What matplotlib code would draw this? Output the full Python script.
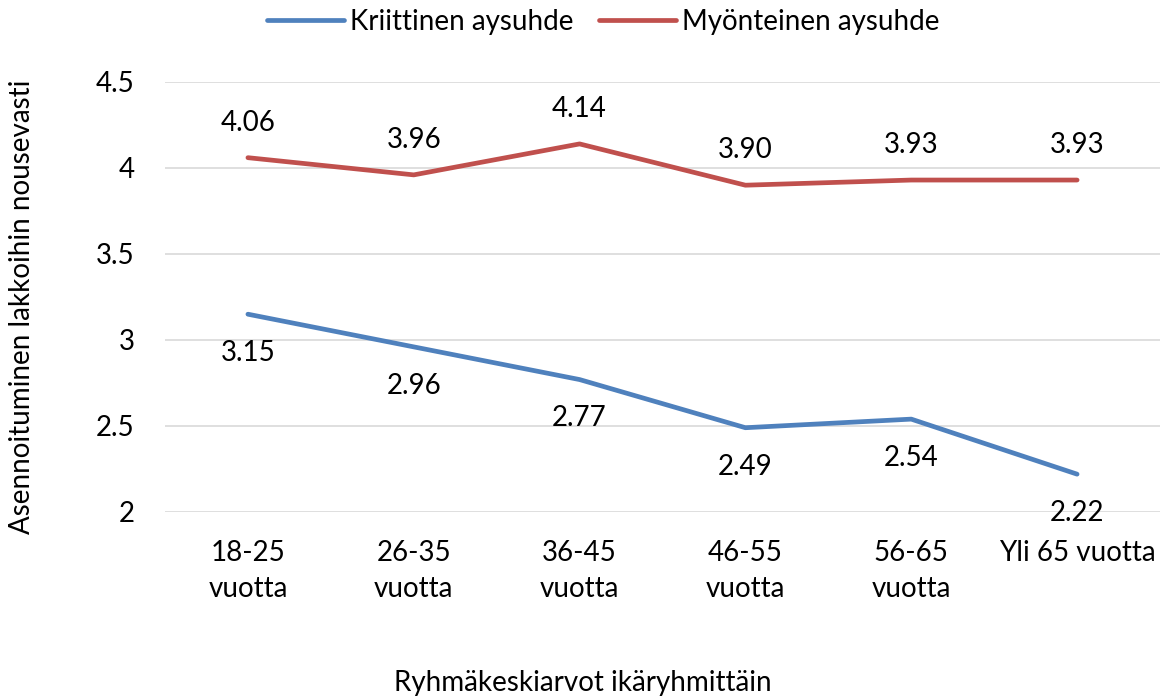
import matplotlib
matplotlib.use("Agg")
import matplotlib.pyplot as plt

categories = ["18-25\nvuotta", "26-35\nvuotta", "36-45\nvuotta", "46-55\nvuotta", "56-65\nvuotta", "Yli 65 vuotta"]
kriittinen = [3.15, 2.96, 2.77, 2.49, 2.54, 2.22]
myonteinen = [4.06, 3.96, 4.14, 3.90, 3.93, 3.93]
yticks = [2, 2.5, 3, 3.5, 4, 4.5]
ytick_labels = ["2", "2.5", "3", "3.5", "4", "4.5"]

plt.rcParams['font.family'] = ['Lato', 'DejaVu Sans']
fs = 20

fig = plt.figure(figsize=(11.65, 6.96), dpi=100)
ax = fig.add_axes([165/1165, 1-512/696, (1160-165)/1165, (512-82)/696])

x = list(range(len(categories)))
blue = "#4F81BD"
red = "#C0504D"
l1, = ax.plot(x, kriittinen, color=blue, lw=3.4, label="Kriittinen aysuhde", solid_capstyle='round')
l2, = ax.plot(x, myonteinen, color=red, lw=3.4, label="Myönteinen aysuhde", solid_capstyle='round')

for xi, v in zip(x, kriittinen):
    ax.annotate(f"{v:.2f}", (xi, v), xytext=(0, -28), textcoords="offset points",
                ha="center", va="center", fontsize=fs, color="black")
for xi, v in zip(x, myonteinen):
    ax.annotate(f"{v:.2f}", (xi, v), xytext=(0, 25), textcoords="offset points",
                ha="center", va="center", fontsize=fs, color="black")

ax.set_xlim(-0.5, len(categories) - 0.5)
ax.set_ylim(2, 4.5)
ax.set_yticks(yticks)
ax.set_yticklabels(ytick_labels, fontsize=fs)
ax.set_xticks(x)
ax.set_xticklabels(categories, fontsize=fs, linespacing=1.5)
ax.tick_params(axis='x', length=0, pad=20)
ax.tick_params(axis='y', length=0, pad=22)
ax.grid(axis='y', color="#D9D9D9", lw=1.2)
ax.set_axisbelow(True)
for s in ax.spines.values():
    s.set_visible(False)

fig.text(22/1165, 1-307/696, "Asennoituminen lakkoihin nousevasti", rotation=90,
         ha="center", va="center", fontsize=fs)
fig.text(0.5, 1-683/696, "Ryhmäkeskiarvot ikäryhmittäin", ha="center", va="center", fontsize=fs)

fig.legend(handles=[l1, l2], loc="center", bbox_to_anchor=(603/1165, 1-22/696), ncol=2,
           frameon=False, fontsize=fs, handlelength=2.8, columnspacing=0.9, handletextpad=0.2)

fig.savefig("out.png", dpi=100)
